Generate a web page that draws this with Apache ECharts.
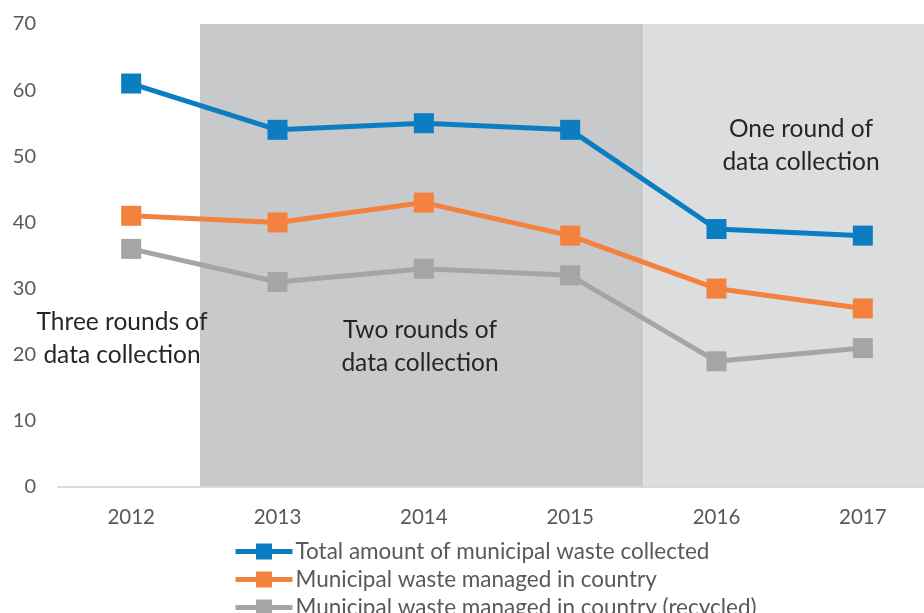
<!DOCTYPE html>
<html><head><meta charset="utf-8">
<script src="https://cdn.jsdelivr.net/npm/echarts@6/dist/echarts.min.js"></script>
<style>html,body{margin:0;padding:0;background:#fff}#c{width:924px;height:613px}</style>
</head><body><div id="c"></div>
<script>
const years = ['2012','2013','2014','2015','2016','2017'];
const totalCollected = [61, 54, 55, 54, 39, 38];
const managedInCountry = [41, 40, 43, 38, 30, 27];
const managedRecycled = [36, 31, 33, 32, 19, 21];
const seriesNames = ['Total amount of municipal waste collected','Municipal waste managed in country','Municipal waste managed in country (recycled)'];
const yTicks = {min: 0, max: 70, interval: 10};
// shaded periods, in category-index units (band edges)
const twoRoundsPeriod = [0.47, 3.5];
const oneRoundPeriod = [3.5, 5.5];

const FONT = 'Lato';
const chart = echarts.init(document.getElementById('c'), null, {renderer: 'canvas'});
const mk = (name, data, color, extra) => Object.assign({
  name, type: 'line', data, symbol: 'rect', symbolSize: 20,
  lineStyle: {color, width: 5}, itemStyle: {color},
  emphasis: {disabled: true}, animation: false
}, extra || {});

chart.setOption({
  animation: false,
  grid: {left: 58, width: 878, top: 24, height: 463, containLabel: false, outerBoundsMode: 'none'},
  xAxis: [{
    type: 'category', data: years, boundaryGap: true,
    axisLine: {show: true, lineStyle: {color: '#d9d9d9', width: 2}},
    axisTick: {show: false},
    axisLabel: {color: '#595959', fontSize: 20.5, fontFamily: FONT, margin: 20}
  }, {
    type: 'value', min: -0.5, max: years.length - 0.5, show: false
  }],
  yAxis: {
    type: 'value', min: yTicks.min, max: yTicks.max, interval: yTicks.interval,
    axisLine: {show: false}, axisTick: {show: false}, splitLine: {show: false},
    axisLabel: {color: '#595959', fontSize: 20, fontFamily: FONT, margin: 22}
  },
  legend: {
    orient: 'vertical', left: 233, top: 540, height: 120, padding: 0, itemGap: 5, itemWidth: 57, itemHeight: 20,
    lineStyle: {width: 5},
    textStyle: {color: '#595959', fontSize: 22.5, fontFamily: FONT, lineHeight: 22, padding: [0, 0, 0, -2]},
    data: seriesNames
  },
  series: [
    {
      type: 'line', xAxisIndex: 1, data: [], silent: true, z: 0,
      markArea: {silent: true, z: 0, data: [
        [{xAxis: twoRoundsPeriod[0], itemStyle: {color: '#c8c9cb'}}, {xAxis: twoRoundsPeriod[1]}],
        [{xAxis: oneRoundPeriod[0], itemStyle: {color: '#dcdddf'}}, {xAxis: oneRoundPeriod[1]}]
      ]}
    },
    mk(seriesNames[0], totalCollected, '#0b7dc0', {z: 4}),
    mk(seriesNames[1], managedInCountry, '#f3823f', {z: 3}),
    mk(seriesNames[2], managedRecycled, '#a5a5a5', {z: 2})
  ],
  graphic: [
    {type: 'text', z: 100, x: 122, y: 306, style: {text: 'Three rounds of\ndata collection', align: 'center', fill: '#262626', font: '24.5px ' + FONT, lineHeight: 33}},
    {type: 'text', z: 100, x: 420, y: 314, style: {text: 'Two rounds of\ndata collection', align: 'center', fill: '#262626', font: '24.5px ' + FONT, lineHeight: 33}},
    {type: 'text', z: 100, x: 801, y: 113, style: {text: 'One round of\ndata collection', align: 'center', fill: '#262626', font: '24.5px ' + FONT, lineHeight: 33}}
  ]
});
</script></body></html>
